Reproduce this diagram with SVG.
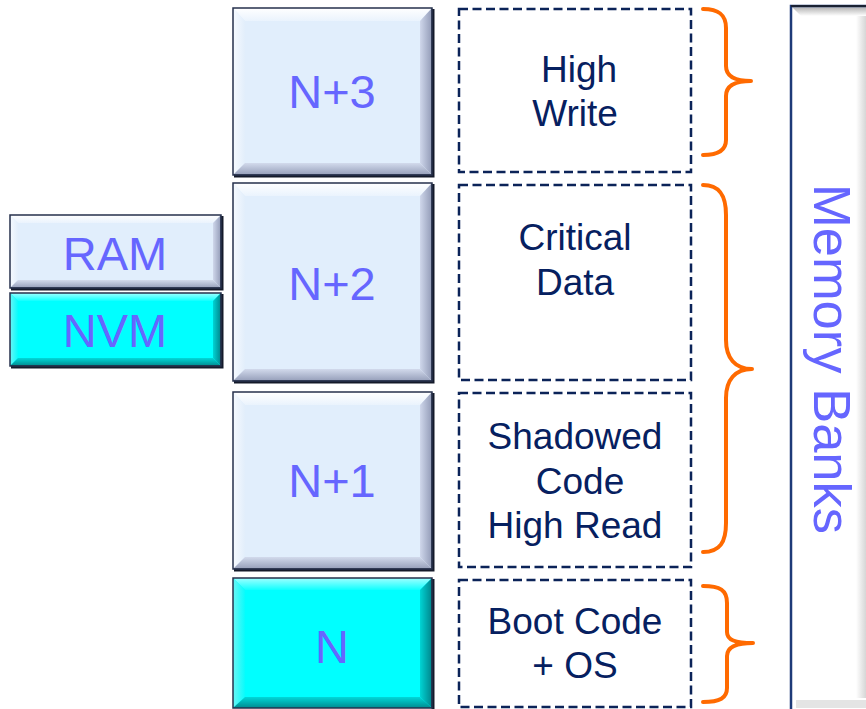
<svg xmlns="http://www.w3.org/2000/svg" width="866" height="709" viewBox="0 0 866 709">
  <defs>
    <!-- bevel shading, light face -->
    <linearGradient id="lTop" x1="0" y1="0" x2="0" y2="1">
      <stop offset="0" stop-color="#FFFFFF"/>
      <stop offset="1" stop-color="#EAF3FD"/>
    </linearGradient>
    <linearGradient id="lLeft" x1="0" y1="0" x2="1" y2="0">
      <stop offset="0" stop-color="#F6FAFF"/>
      <stop offset="1" stop-color="#E2EEFB"/>
    </linearGradient>
    <linearGradient id="lBottom" x1="0" y1="0" x2="0" y2="1">
      <stop offset="0" stop-color="#D2DAEC"/>
      <stop offset="1" stop-color="#959EB9"/>
    </linearGradient>
    <linearGradient id="lRight" x1="0" y1="0" x2="1" y2="0">
      <stop offset="0" stop-color="#CFD7EB"/>
      <stop offset="1" stop-color="#929BB7"/>
    </linearGradient>
    <!-- bevel shading, cyan face -->
    <linearGradient id="cTop" x1="0" y1="0" x2="0" y2="1">
      <stop offset="0" stop-color="#9FFFFF"/>
      <stop offset="1" stop-color="#10FFFF"/>
    </linearGradient>
    <linearGradient id="cLeft" x1="0" y1="0" x2="1" y2="0">
      <stop offset="0" stop-color="#6AF5F5"/>
      <stop offset="1" stop-color="#08FCFC"/>
    </linearGradient>
    <linearGradient id="cBottom" x1="0" y1="0" x2="0" y2="1">
      <stop offset="0" stop-color="#00D8D8"/>
      <stop offset="1" stop-color="#008A8F"/>
    </linearGradient>
    <linearGradient id="cRight" x1="0" y1="0" x2="1" y2="0">
      <stop offset="0" stop-color="#00D4D4"/>
      <stop offset="1" stop-color="#00858C"/>
    </linearGradient>
    <linearGradient id="mbTop" x1="0" y1="0" x2="0" y2="1">
      <stop offset="0" stop-color="#A9A9A9"/>
      <stop offset="1" stop-color="#FFFFFF"/>
    </linearGradient>
    <linearGradient id="mbRight" x1="0" y1="0" x2="1" y2="0">
      <stop offset="0" stop-color="#FFFFFF"/>
      <stop offset="1" stop-color="#D6D6D6"/>
    </linearGradient>
  </defs>
  <style>
    .light { fill: #E1EEFC; }
    .cyan { fill: #00FFFF; }
    .edge { fill: none; stroke: #26304C; stroke-width: 1.5; }
    .shadow { fill: none; stroke: #141A2A; stroke-width: 3; }
    .lbl { font-family: "Liberation Sans", Arial, sans-serif; font-size: 47px; fill: #6666FF; text-anchor: middle; }
    .dash { fill: #FFFFFF; stroke: #0B2358; stroke-width: 2.5; stroke-dasharray: 9 4.5; }
    .note { font-family: "Liberation Sans", Arial, sans-serif; font-size: 37px; fill: #062060; text-anchor: middle; }
    .brace { fill: none; stroke: #FF6A00; stroke-width: 4; stroke-linecap: round; stroke-linejoin: round; }
  </style>

  <rect width="866" height="709" fill="#FFFFFF"/>

  <!-- legend -->
  <g id="legend-ram">
    <rect x="10" y="215" width="211" height="73" class="light"/>
    <polygon points="10,215 221,215 213,223 18,223" fill="url(#lTop)"/>
    <polygon points="10,215 18,223 18,280 10,288" fill="url(#lLeft)"/>
    <polygon points="10,288 18,280 213,280 221,288" fill="url(#lBottom)"/>
    <polygon points="221,215 221,288 213,280 213,223" fill="url(#lRight)"/>
    <polyline points="222,216 222,289 11,289" class="shadow"/>
    <rect x="10" y="215" width="211" height="73" class="edge"/>
    <text x="115" y="270" class="lbl">RAM</text>
  </g>
  <g id="legend-nvm">
    <rect x="10" y="293" width="211" height="73" class="cyan"/>
    <polygon points="10,293 221,293 213,301 18,301" fill="url(#cTop)"/>
    <polygon points="10,293 18,301 18,358 10,366" fill="url(#cLeft)"/>
    <polygon points="10,366 18,358 213,358 221,366" fill="url(#cBottom)"/>
    <polygon points="221,293 221,366 213,358 213,301" fill="url(#cRight)"/>
    <polyline points="222,294 222,367 11,367" class="shadow"/>
    <rect x="10" y="293" width="211" height="73" class="edge"/>
    <text x="115" y="347" class="lbl">NVM</text>
  </g>

  <!-- memory bank stack -->
  <g id="bank-n3">
    <rect x="233" y="8" width="199" height="167" class="light"/>
    <polygon points="233,8 432,8 420,21 245,21" fill="url(#lTop)"/>
    <polygon points="233,8 245,21 245,163 233,175" fill="url(#lLeft)"/>
    <polygon points="233,175 245,163 420,163 432,175" fill="url(#lBottom)"/>
    <polygon points="432,8 432,175 420,163 420,21" fill="url(#lRight)"/>
    <polyline points="433,9 433,176 234,176" class="shadow"/>
    <rect x="233" y="8" width="199" height="167" class="edge"/>
    <text x="332" y="108" class="lbl">N+3</text>
  </g>
  <g id="bank-n2">
    <rect x="233" y="183" width="199" height="198" class="light"/>
    <polygon points="233,183 432,183 420,196 245,196" fill="url(#lTop)"/>
    <polygon points="233,183 245,196 245,369 233,381" fill="url(#lLeft)"/>
    <polygon points="233,381 245,369 420,369 432,381" fill="url(#lBottom)"/>
    <polygon points="432,183 432,381 420,369 420,196" fill="url(#lRight)"/>
    <polyline points="433,184 433,382 234,382" class="shadow"/>
    <rect x="233" y="183" width="199" height="198" class="edge"/>
    <text x="332" y="300" class="lbl">N+2</text>
  </g>
  <g id="bank-n1">
    <rect x="233" y="392" width="199" height="177" class="light"/>
    <polygon points="233,392 432,392 420,405 245,405" fill="url(#lTop)"/>
    <polygon points="233,392 245,405 245,557 233,569" fill="url(#lLeft)"/>
    <polygon points="233,569 245,557 420,557 432,569" fill="url(#lBottom)"/>
    <polygon points="432,392 432,569 420,557 420,405" fill="url(#lRight)"/>
    <polyline points="433,393 433,570 234,570" class="shadow"/>
    <rect x="233" y="392" width="199" height="177" class="edge"/>
    <text x="332" y="497" class="lbl">N+1</text>
  </g>
  <g id="bank-n">
    <rect x="233" y="578" width="199" height="130" class="cyan"/>
    <polygon points="233,578 432,578 420,590 245,590" fill="url(#cTop)"/>
    <polygon points="233,578 245,590 245,697 233,708" fill="url(#cLeft)"/>
    <polygon points="233,708 245,697 420,697 432,708" fill="url(#cBottom)"/>
    <polygon points="432,578 432,708 420,697 420,590" fill="url(#cRight)"/>
    <polyline points="433,579 433,709" class="shadow"/>
    <rect x="233" y="578" width="199" height="130" class="edge"/>
    <text x="332" y="663" class="lbl">N</text>
  </g>

  <!-- usage notes -->
  <g id="use-high-write">
    <rect x="459" y="9" width="232" height="163" class="dash"/>
    <text x="579" y="82" class="note">High</text>
    <text x="575" y="126" class="note">Write</text>
  </g>
  <g id="use-critical-data">
    <rect x="459" y="185" width="232" height="195" class="dash"/>
    <text x="575" y="250" class="note">Critical</text>
    <text x="575" y="295" class="note">Data</text>
  </g>
  <g id="use-shadowed-code">
    <rect x="459" y="393" width="232" height="174" class="dash"/>
    <text x="575" y="449" class="note">Shadowed</text>
    <text x="580" y="494" class="note">Code</text>
    <text x="575" y="538" class="note">High Read</text>
  </g>
  <g id="use-boot-code">
    <rect x="459" y="580" width="232" height="127" class="dash"/>
    <text x="575" y="634" class="note">Boot Code</text>
    <text x="575" y="678" class="note">+ OS</text>
  </g>

  <!-- braces grouping the banks -->
  <g id="connectors">
    <path class="brace" d="M703,9 C718,9 726,14 726,28 L726,66 C726,76 734,81 751,81 C734,81 726,86 726,96 L726,140 C726,150 718,155 703,155"/>
    <path class="brace" d="M703,185 C720,185 726,196 726,215 L726,340 C726,358 735,369 752,369 C735,369 726,380 726,398 L726,523 C726,542 720,552 703,552"/>
    <path class="brace" d="M703,586 C720,586 727,590 727,603 L727,632 C727,640 735,643 753,643 C735,643 727,647 727,656 L727,688 C727,698 720,702 703,702"/>
  </g>

  <!-- memory banks side panel -->
  <g id="memory-banks">
    <rect x="791" y="6" width="90" height="702" fill="#FFFFFF"/>
    <polygon points="791,6 881,6 881,16 801,16" fill="url(#mbTop)"/>
    <rect x="856" y="16" width="10" height="682" fill="url(#mbRight)"/>
    <rect x="796" y="700" width="70" height="8" fill="#E4E4E4"/>
    <polyline points="791,709 791,6 866,6" fill="none" stroke="#1E3A78" stroke-width="2.5"/>
    <polyline points="791,6 866,6" fill="none" stroke="#1A2233" stroke-width="2"/>
    <text transform="translate(814,359) rotate(90)" x="0" y="0" font-family="'Liberation Sans', Arial, sans-serif" font-size="52.5" fill="#6666FF" text-anchor="middle">Memory Banks</text>
  </g>
</svg>
